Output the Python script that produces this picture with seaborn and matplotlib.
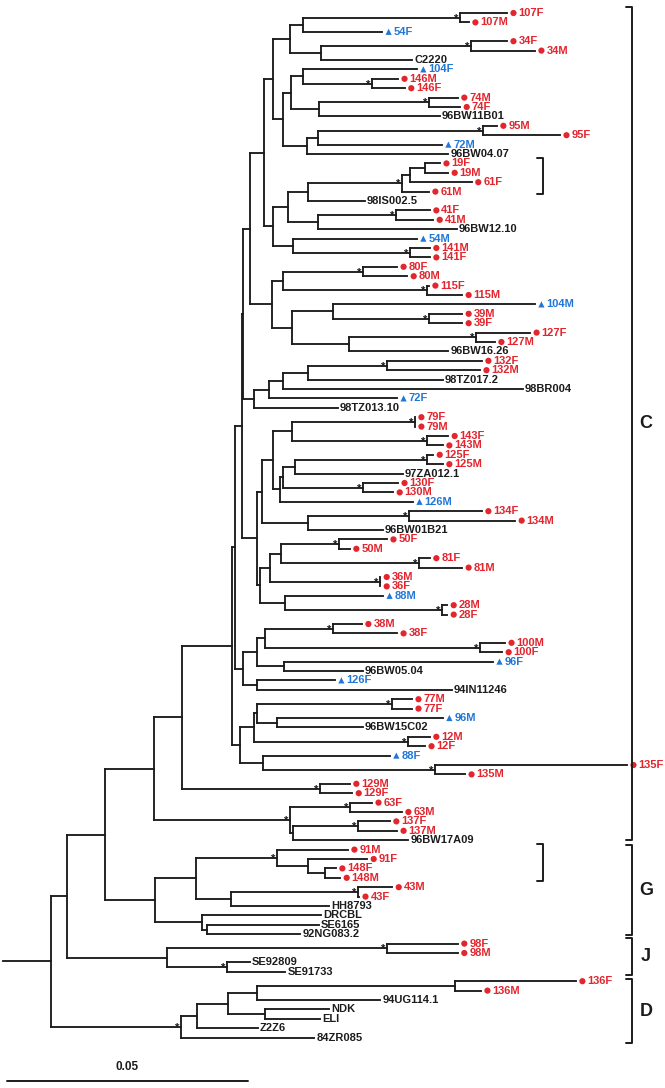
import pandas as pd
import matplotlib
matplotlib.use("Agg")
import matplotlib.pyplot as plt
from matplotlib.collections import LineCollection
import seaborn as sns

# leaves, top to bottom
leaf_names = [
    "107F", "107M", "54F", "34F", "34M", "C2220", "104F", "146M", "146F", "74M",
    "74F", "96BW11B01", "95M", "95F", "72M", "96BW04.07", "19F", "19M", "61F", "61M",
    "98IS002.5", "41F", "41M", "96BW12.10", "54M", "141M", "141F", "80F", "80M", "115F",
    "115M", "104M", "39M", "39F", "127F", "127M", "96BW16.26", "132F", "132M", "98TZ017.2",
    "98BR004", "72F", "98TZ013.10", "79F", "79M", "143F", "143M", "125F", "125M", "97ZA012.1",
    "130F", "130M", "126M", "134F", "134M", "96BW01B21", "50F", "50M", "81F", "81M",
    "36M", "36F", "88M", "28M", "28F", "38M", "38F", "100M", "100F", "96F",
    "96BW05.04", "126F", "94IN11246", "77M", "77F", "96M", "96BW15C02", "12M", "12F", "88F",
    "135F", "135M", "129M", "129F", "63F", "63M", "137F", "137M", "96BW17A09", "91M",
    "91F", "148F", "148M", "43M", "43F", "HH8793", "DRCBL", "SE6165", "92NG083.2", "98F",
    "98M", "SE92809", "SE91733", "136F", "136M", "94UG114.1", "NDK", "ELI", "Z2Z6", "84ZR085",
]

# distance from root to each tip (x 0.001 substitutions/site)
leaf_dist = [
    94.6, 86.7, 68.7, 94.6, 100.4, 74.9, 75.9, 72.0, 73.4, 84.4,
    84.9, 80.7, 92.5, 105.6, 81.1, 82.4, 80.7, 82.4, 87.3, 78.4,
    65.1, 78.6, 79.3, 84.2, 75.9, 78.6, 78.6, 71.8, 73.9, 78.4,
    85.3, 100.4, 85.3, 85.3, 99.4, 92.1, 82.4, 89.4, 89.0, 81.3,
    97.9, 71.8, 59.5, 75.5, 75.5, 82.4, 81.3, 79.3, 81.3, 73.0,
    72.0, 71.0, 75.1, 89.4, 96.3, 68.9, 69.7, 62.0, 78.6, 85.3,
    68.3, 68.3, 68.9, 82.2, 82.2, 64.5, 71.8, 94.2, 93.6, 91.7,
    64.7, 58.9, 83.2, 74.9, 74.9, 81.3, 64.7, 78.6, 77.6, 70.3,
    119.5, 85.9, 62.0, 62.5, 66.6, 72.8, 70.3, 71.8, 74.1, 61.6,
    65.6, 59.1, 60.0, 70.8, 63.9, 57.7, 56.0, 55.6, 51.7, 84.4,
    84.4, 41.3, 48.6, 108.9, 89.2, 68.3, 57.7, 55.8, 42.9, 54.6,
]

blue_samples = ["54F", "104F", "72M", "54M", "104M", "72F", "126M", "88M", "96F", "126F", "96M", "88F"]
reference_strains = [
    "C2220", "96BW11B01", "96BW04.07", "98IS002.5", "96BW12.10", "96BW16.26", "98TZ017.2",
    "98BR004", "98TZ013.10", "97ZA012.1", "96BW01B21", "96BW05.04", "94IN11246", "96BW15C02",
    "96BW17A09", "HH8793", "DRCBL", "SE6165", "92NG083.2", "SE92809", "SE91733", "94UG114.1",
    "NDK", "ELI", "Z2Z6", "84ZR085",
]

# internal nodes in post-order: name, upper child, lower child, distance from root
node_names = [
    "n107", "A1", "n34", "n321", "B1", "n146", "n303", "n74", "n319", "B2",
    "n95", "n318", "n307", "B3", "B4", "n19", "n410", "n402", "n308", "n41",
    "n318b", "n288", "n141", "n295", "C1", "C0", "n80", "n115", "n283", "n39",
    "n333", "n127", "n349", "n292", "E1", "D0", "n132", "n308b", "n283b", "n269",
    "n254", "F1", "n79", "n143", "n292b", "n125", "n295b", "n130", "n283c", "n280",
    "n273", "n134", "n308c", "n262", "n50", "n81", "n281", "n36", "n270", "n28",
    "n285", "n260", "Gc", "F2", "n38", "n100", "n265", "n284", "n257x", "n257y",
    "n243", "H1", "n77", "n277", "n257z", "n12", "n254z", "n135", "n263", "n240",
    "H2", "n129", "n182", "n63", "n137", "n293", "n290", "n154", "n148", "n308g",
    "n277g", "n43", "n231", "n196", "n207", "n202", "n155", "n105", "n98", "nSE",
    "n167", "n67", "n136", "n257d", "n265d", "n228", "n197", "n181", "root",
]
node_upper = [
    "107F", "n107", "34F", "n34", "A1", "146M", "104F", "74M", "n74", "n303",
    "95M", "n95", "n318", "B2", "B1", "19F", "n19", "n410", "n402", "41F",
    "n41", "n308", "141M", "54M", "n288", "B4", "80F", "115F", "n80", "39M",
    "104M", "127F", "n127", "n333", "n283", "C0", "132F", "n132", "n308b", "n283b",
    "n269", "D0", "79F", "143F", "n79", "125F", "n125", "130F", "n295b", "n283c",
    "n292b", "134F", "n134", "n273", "50F", "81F", "n50", "36M", "n281", "28M",
    "88M", "n270", "n262", "F1", "38M", "100M", "n38", "96F", "n265", "126F",
    "n257x", "F2", "77M", "96M", "n77", "12M", "n257z", "135F", "88F", "n254z",
    "H1", "129M", "H2", "63F", "137F", "n137", "n63", "n182", "148F", "91F",
    "91M", "43M", "n43", "n277g", "SE6165", "DRCBL", "n196", "n154", "98F", "SE92809",
    "n98", "n105", "136F", "n136", "NDK", "n257d", "n228", "n197", "n67",
]
node_lower = [
    "107M", "54F", "34M", "C2220", "n321", "146F", "n146", "74F", "96BW11B01", "n319",
    "95F", "72M", "96BW04.07", "n307", "B3", "19M", "61F", "61M", "98IS002.5", "41M",
    "96BW12.10", "n318b", "141F", "n141", "n295", "C1", "80M", "115M", "n115", "39F",
    "n39", "127M", "96BW16.26", "n349", "n292", "E1", "132M", "98TZ017.2", "98BR004", "72F",
    "98TZ013.10", "n254", "79M", "143M", "n143", "125M", "97ZA012.1", "130M", "n130", "126M",
    "n280", "134M", "96BW01B21", "n308c", "50M", "81M", "n81", "36F", "n36", "28F",
    "n28", "n285", "n260", "Gc", "38F", "100F", "n100", "96BW05.04", "n284", "94IN11246",
    "n257y", "n243", "77F", "96BW15C02", "n277", "12F", "n12", "135M", "n135", "n263",
    "n240", "129F", "n129", "63M", "137M", "96BW17A09", "n293", "n290", "148M", "n148",
    "n308g", "43F", "HH8793", "n231", "92NG083.2", "n207", "n202", "n155", "98M", "SE91733",
    "nSE", "n167", "136M", "94UG114.1", "ELI", "n265d", "Z2Z6", "84ZR085", "n181",
]
node_dist = [
    84.9, 52.3, 87.1, 56.0, 49.6, 66.6, 52.3, 78.4, 55.6, 49.8,
    89.6, 55.4, 53.1, 48.1, 46.1, 77.6, 74.5, 72.8, 53.3, 71.6,
    55.4, 49.2, 74.5, 50.2, 46.1, 44.2, 64.7, 78.0, 48.1, 78.4,
    58.5, 88.2, 61.8, 50.0, 45.9, 41.3, 69.7, 53.3, 48.1, 45.2,
    42.1, 39.8, 75.5, 78.0, 50.0, 78.0, 50.6, 64.7, 48.1, 47.5,
    46.1, 74.3, 53.3, 43.8, 59.8, 76.4, 47.7, 68.3, 45.4, 81.1,
    48.6, 43.4, 42.7, 39.6, 58.5, 89.0, 44.4, 48.3, 42.7, 42.7,
    39.8, 38.2, 70.8, 46.9, 42.7, 74.1, 42.1, 79.7, 44.0, 39.2,
    37.6, 55.8, 27.2, 62.0, 63.7, 50.2, 49.6, 21.4, 56.9, 53.3,
    46.9, 63.7, 37.3, 30.1, 32.4, 31.3, 21.6, 11.2, 69.7, 36.5,
    24.1, 3.3, 83.8, 42.7, 44.4, 36.7, 30.3, 27.0, 0.0,
]

# nodes marked with an asterisk
starred = [
    "n107", "n34", "n146", "n74", "n95", "n402", "n41", "n141", "n80", "n115",
    "n39", "n127", "n132", "n79", "n143", "n125", "n130", "n134", "n50", "n81",
    "n36", "n28", "n38", "n100", "n77", "n12", "n135", "n129", "n63", "n137",
    "n290", "n277g", "n43", "n98", "nSE", "n181",
]

# subtype brackets
clade_labels = ["C", "G", "J", "D"]
clade_first = ["107F", "91M", "98F", "136F"]
clade_last = ["96BW17A09", "92NG083.2", "SE91733", "84ZR085"]
clade_top_pad = [0.65, 0.5, 0.6, 0.2]
clade_bottom_pad = [0.0, 0.1, 0.3, 0.55]
pair_brackets = [("19F", "61M"), ("91M", "148M")]

scale_value = 0.05

RED = "#e3252e"
BLUE = "#2277d6"
INK = "#1c1c1c"

sns.set_style("white")
plt.rcParams["font.family"] = ["Liberation Sans", "DejaVu Sans"]

# layout
xpos = {n: d / 1000 for n, d in zip(leaf_names, leaf_dist)}
ypos = {n: float(i) for i, n in enumerate(leaf_names)}
for name, up, lo, d in zip(node_names, node_upper, node_lower, node_dist):
    xpos[name] = d / 1000
    ypos[name] = (ypos[up] + ypos[lo]) / 2

segments = []
for name, up, lo in zip(node_names, node_upper, node_lower):
    x = xpos[name]
    segments.append([(x, ypos[up]), (x, ypos[lo])])
    for child in (up, lo):
        segments.append([(x, ypos[child]), (xpos[child], ypos[child])])
segments.append([(-0.0100, ypos["root"]), (0.0, ypos["root"])])

px = scale_value / 241  # one pixel in distance units
row = 9.4  # pixels per leaf row

fig = plt.figure(figsize=(6.65, 10.88), dpi=100)
ax = fig.add_axes([0, 0, 1, 1])
ax.add_collection(LineCollection(segments, colors=INK, linewidths=1.35, capstyle="projecting"))

kinds = ["ref" if n in reference_strains else ("blue" if n in blue_samples else "red") for n in leaf_names]
leaves = pd.DataFrame({"name": leaf_names, "x": [xpos[n] for n in leaf_names],
                       "y": [ypos[n] for n in leaf_names], "kind": kinds})
samples = leaves[leaves["kind"] != "ref"].copy()
samples["mx"] = samples["x"] + 6.5 * px
sns.scatterplot(data=samples, x="mx", y="y", hue="kind", style="kind",
                palette={"red": RED, "blue": BLUE}, markers={"red": "o", "blue": "^"},
                s=20, linewidth=0, legend=False, ax=ax)

for _, r in leaves.iterrows():
    if r["kind"] == "ref":
        ax.text(r["x"] + 2 * px, r["y"], r["name"], color=INK, fontsize=8,
                fontweight="bold", ha="left", va="center")
    else:
        ax.text(r["x"] + 11.5 * px, r["y"], r["name"], color=RED if r["kind"] == "red" else BLUE,
                fontsize=8, fontweight="bold", ha="left", va="center")

for name in starred:
    ax.text(xpos[name] - 1.5 * px, ypos[name] + 0.42, "*", color=INK, fontsize=8,
            fontweight="bold", ha="right", va="baseline")

# clade brackets
bx = 0.1205
for lab, first, last, tp, bp in zip(clade_labels, clade_first, clade_last,
                                    clade_top_pad, clade_bottom_pad):
    top, bot = ypos[first] - tp, ypos[last] + bp
    ax.plot([bx - 6 * px, bx, bx, bx - 6 * px], [top, top, bot, bot], color=INK, lw=1.4)
    ax.text(bx + 14 * px, (top + bot) / 2, lab, color=INK, fontsize=13,
            fontweight="bold", ha="center", va="center")

sx = 0.1021
for first, last in pair_brackets:
    top, bot = ypos[first] - 0.6, ypos[last] + 0.3
    ax.plot([sx - 6 * px, sx, sx, sx - 6 * px], [top, top, bot, bot], color=INK, lw=1.4)

# scale bar
x0 = -0.0092
ybar = (1081 - 13) / row
ax.plot([x0, x0 + scale_value], [ybar, ybar], color=INK, lw=1.4)
ax.text(x0 + scale_value / 2, ybar - 1.5, f"{scale_value:.2f}", color=INK, fontsize=8.5,
        fontweight="bold", ha="center", va="center")

ax.set_xlim(-51 * px, 614 * px)
ax.set_ylim((1088 - 13) / row, -13 / row)
ax.axis("off")

fig.savefig("out.png", dpi=100, facecolor="white")
